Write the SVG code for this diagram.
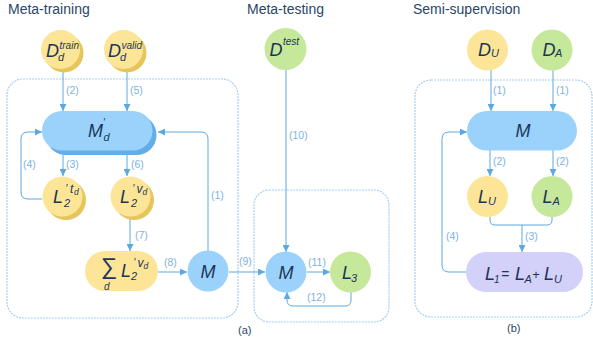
<svg xmlns="http://www.w3.org/2000/svg" width="593" height="344" viewBox="0 0 593 344">
  <defs>
    <style>
      .title { font-family: "Liberation Sans", Arial, sans-serif; font-size: 14px; fill: #2A4668; }
      .cap { font-family: "Liberation Sans", Arial, sans-serif; font-size: 11px; fill: #2A4668; }
      .v { font-family: "Liberation Sans", Arial, sans-serif; font-style: italic; fill: #1C3557; }
      .big { font-size: 18px; }
      .sup { font-size: 10px; }
      .sub { font-size: 11px; }
      .lbl { font-family: "Liberation Sans", Arial, sans-serif; font-size: 10.5px; fill: #7DB3E0; }
      .box { fill: none; stroke: #A6CFF0; stroke-width: 1.2; stroke-dasharray: 2 1; }
      .edge { fill: none; stroke: #5EA8E0; stroke-width: 1; }
      .blue { fill: #9AD2FC; }
      .blueS { fill: #62AEE8; }
      .yel { fill: #FDE597; }
      .yelS { fill: #E6C65C; }
      .grn { fill: #C5E89A; }
      .lav { fill: #D3D0FA; }
    </style>
    <marker id="arr" viewBox="0 0 8 8" refX="8" refY="4" markerWidth="7" markerHeight="7" markerUnits="userSpaceOnUse" orient="auto">
      <path d="M0,0 L8,4 L0,8 Z" fill="#5EA8E0"/>
    </marker>
  </defs>

  <!-- panel titles -->
  <text class="title" x="8" y="14">Meta-training</text>
  <text class="title" x="247" y="14">Meta-testing</text>
  <text class="title" x="413" y="14">Semi-supervision</text>

  <!-- dashed frames -->
  <rect class="box" x="7" y="79" width="231" height="239" rx="16"/>
  <rect class="box" x="254" y="190" width="135" height="132" rx="15"/>
  <rect class="box" x="415" y="80" width="177" height="237" rx="16"/>

  <!-- connectors -->
  <g id="connectors">
    <path class="edge" marker-end="url(#arr)" d="M63,70 V111"/>
    <path class="edge" marker-end="url(#arr)" d="M127,70 V111"/>
    <path class="edge" marker-end="url(#arr)" d="M63,155 V176"/>
    <path class="edge" marker-end="url(#arr)" d="M127,155 V176"/>
    <path class="edge" marker-end="url(#arr)" d="M42,199 H28 Q21,199 21,192 V139 Q21,132 28,132 H42"/>
    <path class="edge" marker-end="url(#arr)" d="M208,251 V139 Q208,132 201,132 H158"/>
    <path class="edge" marker-end="url(#arr)" d="M130,218 V251"/>
    <path class="edge" marker-end="url(#arr)" d="M158,272 H187"/>
    <path class="edge" marker-end="url(#arr)" d="M229,272 H265"/>
    <path class="edge" marker-end="url(#arr)" d="M286,70 V252"/>
    <path class="edge" marker-end="url(#arr)" d="M307,272 H330"/>
    <path class="edge" marker-end="url(#arr)" d="M351,292 V300 Q351,306 345,306 H293 Q287,306 287,300 V292"/>
    <path class="edge" marker-end="url(#arr)" d="M491,70 V111"/>
    <path class="edge" marker-end="url(#arr)" d="M553,70 V111"/>
    <path class="edge" marker-end="url(#arr)" d="M490,150 V176"/>
    <path class="edge" marker-end="url(#arr)" d="M553,150 V176"/>
    <path class="edge" d="M490,217 V220 Q490,225 495,225 H547 Q552,225 552,220 V217"/>
    <path class="edge" marker-end="url(#arr)" d="M522,225 V252"/>
    <path class="edge" marker-end="url(#arr)" d="M466,272 H449 Q442,272 442,265 V139 Q442,132 449,132 H467"/>
  </g>

  <!-- connector labels -->
  <g id="edge-labels">
    <text class="lbl" x="66" y="94">(2)</text>
    <text class="lbl" x="130" y="94">(5)</text>
    <text class="lbl" x="23" y="168">(4)</text>
    <text class="lbl" x="66" y="168">(3)</text>
    <text class="lbl" x="131" y="168">(6)</text>
    <text class="lbl" x="211" y="199">(1)</text>
    <text class="lbl" x="135" y="239">(7)</text>
    <text class="lbl" x="164" y="266">(8)</text>
    <text class="lbl" x="239" y="265">(9)</text>
    <text class="lbl" x="289" y="139">(10)</text>
    <text class="lbl" x="308" y="266">(11)</text>
    <text class="lbl" x="307" y="301">(12)</text>
    <text class="lbl" x="493" y="94">(1)</text>
    <text class="lbl" x="556" y="94">(1)</text>
    <text class="lbl" x="493" y="165">(2)</text>
    <text class="lbl" x="556" y="165">(2)</text>
    <text class="lbl" x="525" y="240">(3)</text>
    <text class="lbl" x="446" y="240">(4)</text>
  </g>

  <!-- meta-training nodes -->
  <g id="d-train">
    <circle class="yelS" cx="64" cy="53" r="19.5"/>
    <circle class="yel" cx="60.5" cy="49.5" r="19.5"/>
    <text class="v big" x="46" y="57">D</text>
    <text class="v sup" x="59.5" y="49">train</text>
    <text class="v sub" x="58" y="61">d</text>
  </g>
  <g id="d-valid">
    <circle class="yelS" cx="127" cy="53" r="19.5"/>
    <circle class="yel" cx="123.5" cy="49.5" r="19.5"/>
    <text class="v big" x="108" y="57">D</text>
    <text class="v sup" x="121.5" y="49">valid</text>
    <text class="v sub" x="120" y="61">d</text>
  </g>
  <g id="m-prime-d">
    <rect class="blueS" x="46" y="115" width="110.5" height="40" rx="20"/>
    <rect class="blue" x="42" y="111" width="110.5" height="39.5" rx="19.75"/>
    <text class="v big" x="88" y="137">M</text>
    <text class="v sup" x="103" y="126">′</text>
    <text class="v sub" x="103.5" y="141">d</text>
  </g>
  <g id="l2-td">
    <circle class="yelS" cx="66" cy="200" r="20"/>
    <circle class="yel" cx="62.5" cy="196.5" r="20"/>
    <text class="v big" x="53" y="203">L</text>
    <text class="v sup" x="65.5" y="192">′</text>
    <text class="v" font-size="12" x="70" y="193">t</text>
    <text class="v" font-size="8.5" x="74" y="195">d</text>
    <text class="v sub" x="64" y="207">2</text>
  </g>
  <g id="l2-vd">
    <circle class="yelS" cx="134" cy="200" r="20"/>
    <circle class="yel" cx="130.5" cy="196.5" r="20"/>
    <text class="v big" x="120" y="203">L</text>
    <text class="v sup" x="132.5" y="192">′</text>
    <text class="v" font-size="12" x="136.5" y="193">v</text>
    <text class="v" font-size="8.5" x="142.5" y="195">d</text>
    <text class="v sub" x="131" y="207">2</text>
  </g>
  <g id="sum-l2-vd">
    <rect class="yel" x="85" y="251" width="73" height="40" rx="20"/>
    <text class="v" font-size="23" font-style="normal" x="100.5" y="274">∑</text>
    <text class="v" font-size="10" x="104" y="290">d</text>
    <text class="v big" x="121" y="277">L</text>
    <text class="v sup" x="133.5" y="266">′</text>
    <text class="v" font-size="12" x="137.5" y="267">v</text>
    <text class="v" font-size="8.5" x="143.5" y="269">d</text>
    <text class="v sub" x="131" y="280">2</text>
  </g>
  <g id="m-train">
    <circle class="blue" cx="208" cy="271" r="20.5"/>
    <text class="v big" x="208" y="278" text-anchor="middle">M</text>
  </g>

  <!-- meta-testing nodes -->
  <g id="d-test">
    <circle class="grn" cx="285.5" cy="49" r="21"/>
    <text class="v big" x="269.5" y="56">D</text>
    <text class="v sup" x="283" y="45">test</text>
  </g>
  <g id="m-test">
    <circle class="blue" cx="286" cy="272" r="20.5"/>
    <text class="v big" x="286" y="279" text-anchor="middle">M</text>
  </g>
  <g id="l3">
    <circle class="grn" cx="350.5" cy="272" r="20.5"/>
    <text class="v big" x="342" y="279">L</text>
    <text class="v sub" x="351" y="282">3</text>
  </g>

  <!-- semi-supervision nodes -->
  <g id="d-u">
    <circle class="yel" cx="487.5" cy="50" r="20.5"/>
    <text class="v big" x="478" y="56">D</text>
    <text class="v sub" x="491" y="57">U</text>
  </g>
  <g id="d-a">
    <circle class="grn" cx="552" cy="50" r="20.5"/>
    <text class="v big" x="542.5" y="56">D</text>
    <text class="v sub" x="555" y="57">A</text>
  </g>
  <g id="m-semi">
    <rect class="blue" x="467" y="111" width="110" height="39.5" rx="19.75"/>
    <text class="v big" x="523" y="137" text-anchor="middle">M</text>
  </g>
  <g id="l-u">
    <circle class="yel" cx="487.5" cy="196.5" r="20.5"/>
    <text class="v big" x="478" y="203">L</text>
    <text class="v sub" x="488" y="205">U</text>
  </g>
  <g id="l-a">
    <circle class="grn" cx="552" cy="196.5" r="20.5"/>
    <text class="v big" x="542.5" y="203">L</text>
    <text class="v sub" x="552.5" y="205">A</text>
  </g>
  <g id="l1">
    <rect class="lav" x="466" y="252" width="117" height="40" rx="20"/>
    <text class="v big" x="485" y="280">L</text>
    <text class="v" font-size="10" x="494" y="283">1</text>
    <text class="v" font-size="14" font-style="normal" x="501" y="279">=</text>
    <text class="v big" x="515" y="280">L</text>
    <text class="v sub" x="524.5" y="283">A</text>
    <text class="v" font-size="13" font-style="normal" x="532" y="279">+</text>
    <text class="v big" x="544" y="280">L</text>
    <text class="v sub" x="554" y="283">U</text>
  </g>

  <!-- sub-figure captions -->
  <text class="cap" x="238" y="334">(a)</text>
  <text class="cap" x="507" y="332">(b)</text>
</svg>
